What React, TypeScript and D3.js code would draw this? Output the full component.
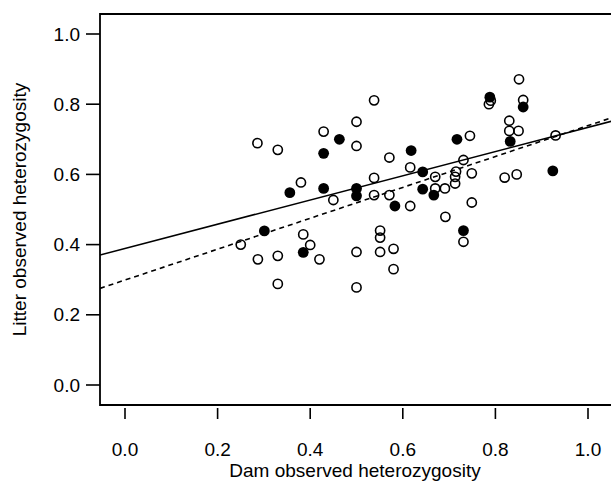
import React from "react";
import * as d3 from "d3";

const openX = [0.286, 0.33, 0.25, 0.287, 0.33, 0.33, 0.38, 0.385, 0.40, 0.42, 0.429, 0.45, 0.50, 0.50, 0.50, 0.50, 0.538, 0.538, 0.538, 0.551, 0.551, 0.551, 0.571, 0.571, 0.58, 0.58, 0.616, 0.616, 0.67, 0.67, 0.691, 0.692, 0.713, 0.713, 0.715, 0.731, 0.731, 0.745, 0.749, 0.749, 0.786, 0.79, 0.82, 0.83, 0.83, 0.846, 0.85, 0.851, 0.86, 0.93];
const openY = [0.689, 0.67, 0.40, 0.358, 0.368, 0.288, 0.577, 0.429, 0.399, 0.358, 0.722, 0.527, 0.75, 0.681, 0.379, 0.278, 0.811, 0.59, 0.541, 0.44, 0.42, 0.379, 0.648, 0.541, 0.388, 0.33, 0.62, 0.51, 0.593, 0.56, 0.56, 0.479, 0.574, 0.593, 0.608, 0.641, 0.408, 0.71, 0.603, 0.52, 0.80, 0.81, 0.591, 0.753, 0.724, 0.60, 0.724, 0.871, 0.812, 0.711];
const filledX = [0.301, 0.356, 0.385, 0.429, 0.429, 0.463, 0.50, 0.50, 0.583, 0.618, 0.643, 0.643, 0.667, 0.717, 0.731, 0.788, 0.832, 0.86, 0.924];
const filledY = [0.439, 0.548, 0.378, 0.66, 0.56, 0.70, 0.56, 0.539, 0.51, 0.668, 0.607, 0.558, 0.541, 0.70, 0.44, 0.82, 0.694, 0.792, 0.61];
const tickValues = [0, 0.2, 0.4, 0.6, 0.8, 1.0];
// regression lines: [intercept, slope]
const solidFit = [0.389, 0.345];
const dashedFit = [0.299, 0.44];

export default function App() {
  const W = 611, H = 485;
  const x = d3.scaleLinear().domain([0, 1]).range([125, 588]);
  const y = d3.scaleLinear().domain([0, 1]).range([385, 34]);
  const left = 100, top = 14, bottom = 405, right = 620;
  const x0 = x.invert(left), x1 = x.invert(right);
  const font = "'Liberation Sans', Arial, Helvetica, sans-serif";
  const fs = 19;
  const line = (fit: number[]) =>
    d3.line<number>().x((d) => x(d)).y((d) => y(fit[0] + fit[1] * d))([x0, x1]) || "";
  return (
    <svg width={W} height={H} style={{ position: "absolute", left: 0, top: 0, background: "#fff" }}>
      <defs>
        <clipPath id="plotclip">
          <rect x={left} y={top} width={right - left} height={bottom - top} />
        </clipPath>
      </defs>
      <g clipPath="url(#plotclip)">
        <path d={line(solidFit)} stroke="#000" strokeWidth={1.6} fill="none" />
        <path d={line(dashedFit)} stroke="#000" strokeWidth={1.6} fill="none" strokeDasharray="5,4" />
        {openX.map((v, i) => (
          <circle key={"o" + i} cx={x(v)} cy={y(openY[i])} r={4.6} fill="none" stroke="#000" strokeWidth={1.6} />
        ))}
        {filledX.map((v, i) => (
          <circle key={"f" + i} cx={x(v)} cy={y(filledY[i])} r={5.4} fill="#000" />
        ))}
      </g>
      <path d={`M${right},${top}H${left}V${bottom}H${right}`} fill="none" stroke="#000" strokeWidth={1.8} />
      {tickValues.map((t) => (
        <g key={"y" + t}>
          <line x1={86} x2={left} y1={y(t)} y2={y(t)} stroke="#000" strokeWidth={1.6} />
          <text x={80} y={y(t)} dy="0.35em" textAnchor="end" fontFamily={font} fontSize={fs}>
            {t.toFixed(1)}
          </text>
        </g>
      ))}
      {tickValues.map((t) => (
        <g key={"x" + t}>
          <line x1={x(t)} x2={x(t)} y1={408} y2={419} stroke="#000" strokeWidth={1.6} />
          <text x={x(t)} y={456} textAnchor="middle" fontFamily={font} fontSize={fs}>
            {t.toFixed(1)}
          </text>
        </g>
      ))}
      <text x={355} y={477} textAnchor="middle" fontFamily={font} fontSize={fs}>
        Dam observed heterozygosity
      </text>
      <text transform={`translate(26,${(top + bottom) / 2}) rotate(-90)`} textAnchor="middle" fontFamily={font} fontSize={fs}>
        Litter observed heterozygosity
      </text>
    </svg>
  );
}
